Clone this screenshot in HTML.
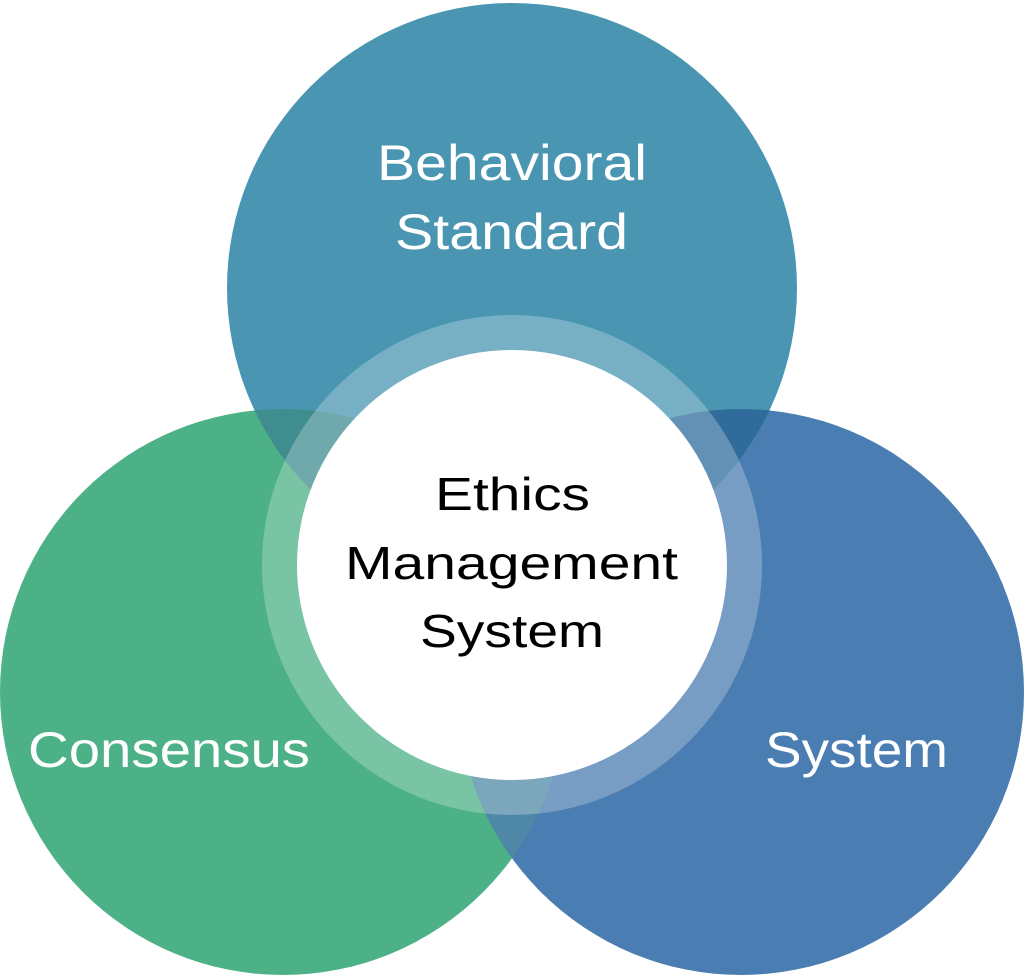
<!DOCTYPE html>
<html><head><meta charset="utf-8"><style>
html,body{margin:0;padding:0;background:#fff;}
svg{display:block;}
text{font-family:"Liberation Sans",Arial,sans-serif;}
</style></head><body>
<svg width="1024" height="977" viewBox="0 0 1024 977" xmlns="http://www.w3.org/2000/svg">
<defs>
<clipPath id="cT"><circle cx="512" cy="288" r="285"/></clipPath>
<clipPath id="cL"><circle cx="283" cy="692" r="283"/></clipPath>
</defs>
<circle cx="283" cy="692" r="283" fill="#4cb186"/>
<circle cx="741" cy="692" r="283" fill="#4a7db1"/>
<circle cx="512" cy="288" r="285" fill="#4a96b2"/>
<circle cx="283" cy="692" r="283" fill="#3f8d8f" clip-path="url(#cT)"/>
<circle cx="741" cy="692" r="283" fill="#2f6c9c" clip-path="url(#cT)"/>
<g clip-path="url(#cL)"><circle cx="741" cy="692" r="283" fill="#4f88a6"/></g>
<circle cx="512" cy="565" r="250" fill="#fff" fill-opacity="0.25"/>
<circle cx="512" cy="565" r="215" fill="#fff"/>
<g fill="#fff" font-size="50">
<text x="377" y="180" textLength="270" lengthAdjust="spacingAndGlyphs">Behavioral</text>
<text x="395" y="249" textLength="233" lengthAdjust="spacingAndGlyphs">Standard</text>
<text x="28" y="767" textLength="282" lengthAdjust="spacingAndGlyphs">Consensus</text>
<text x="765" y="767" textLength="183" lengthAdjust="spacingAndGlyphs">System</text>
</g>
<g fill="#000" font-size="46">
<text x="435" y="510" textLength="155" lengthAdjust="spacingAndGlyphs">Ethics</text>
<text x="345" y="579" textLength="333" lengthAdjust="spacingAndGlyphs">Management</text>
<text x="420" y="647" textLength="184" lengthAdjust="spacingAndGlyphs">System</text>
</g>
</svg>
</body></html>
